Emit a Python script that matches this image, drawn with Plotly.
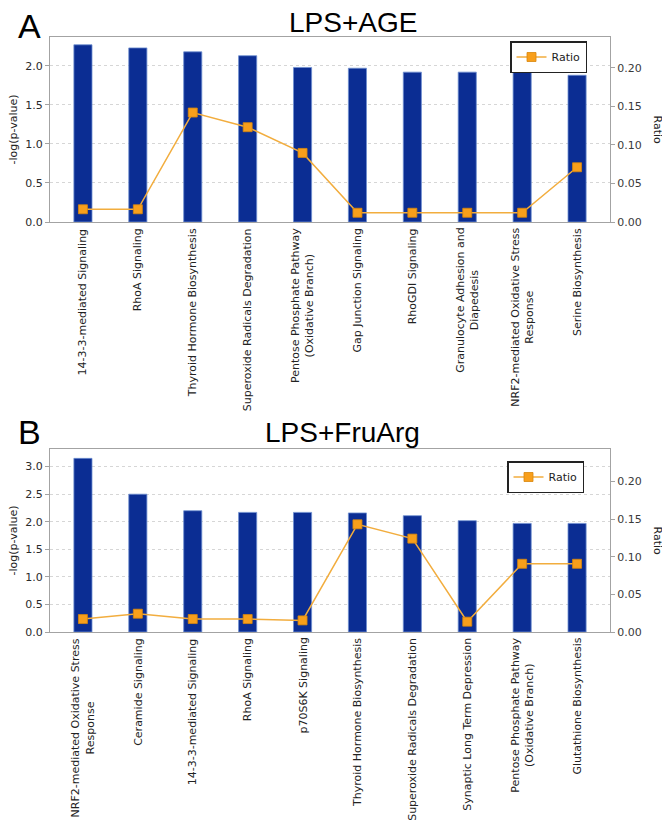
import plotly.graph_objects as go

# The page body adds an 8px margin, so the figure is drawn 8px smaller and
# all reference pixel positions are shifted by that offset.
REF_W, REF_H = 670, 831
OFF = 8
W, H = REF_W - OFF, REF_H - OFF

# ---------------- data ----------------
cats_A = ["14-3-3-mediated Signaling", "RhoA Signaling", "Thyroid Hormone Biosynthesis",
          "Superoxide Radicals Degradation", "Pentose Phosphate Pathway<br>(Oxidative Branch)",
          "Gap Junction Signaling", "RhoGDI Signaling", "Granulocyte Adhesion and<br>Diapedesis",
          "NRF2-mediated Oxidative Stress<br>Response", "Serine Biosynthesis"]
logp_A = [2.27, 2.23, 2.18, 2.13, 1.98, 1.97, 1.92, 1.92, 1.92, 1.88]
ratio_A = [0.0165, 0.0165, 0.142, 0.123, 0.0896, 0.012, 0.012, 0.012, 0.012, 0.071]

cats_B = ["NRF2-mediated Oxidative Stress<br>Response", "Ceramide Signaling",
          "14-3-3-mediated Signaling", "RhoA Signaling", "p70S6K Signaling",
          "Thyroid Hormone Biosynthesis", "Superoxide Radicals Degradation",
          "Synaptic Long Term Depression", "Pentose Phosphate Pathway<br>(Oxidative Branch)",
          "Glutathione Biosynthesis"]
logp_B = [3.15, 2.50, 2.20, 2.17, 2.17, 2.16, 2.11, 2.02, 1.97, 1.97]
ratio_B = [0.0172, 0.0243, 0.0172, 0.0172, 0.0154, 0.143, 0.124, 0.0137, 0.0906, 0.0906]

titles = ["LPS+AGE", "LPS+FruArg"]
panel_letters = ["A", "B"]
left_title = "-log(p-value)"
right_title = "Ratio"
legend_name = "Ratio"

# ---------------- styles ----------------
BAR = "#0b2d93"
BAR_EDGE = "#6f8fd0"
LINE = "#f2ad3e"
MARK = "#f89f1b"
MARK_EDGE = "#d8870c"
AX = "#a3a3a3"
GRID = "#d6d6d6"
TICKFONT = dict(family="DejaVu Sans", size=11, color="#2a2a2a")


def px_x(p):
    return (p - OFF) / W


def px_y(p):
    return (REF_H - p) / H


# plot-area pixel boxes in reference pixels: (left, right, top, bottom)
boxes = [(50, 610, 37, 222), (50, 610, 449, 632)]
yranges = [(2.37, 0.24), (3.32, 0.243)]
legend_pos = [(587, 41), (584, 461)]
title_pos = [(353, 23), (343, 432)]
letter_pos = [(29, 9), (29, 415)]

fig = go.Figure()
layout = dict(
    width=W, height=H, margin=dict(l=0, r=0, t=0, b=0),
    paper_bgcolor="white", plot_bgcolor="white",
    bargap=0.67, hovermode=False, annotations=[],
)

panels = [(cats_A, logp_A, ratio_A), (cats_B, logp_B, ratio_B)]
for i, (cats, logp, ratio) in enumerate(panels):
    xa = "x" if i == 0 else "x2"
    yl = "y" if i == 0 else "y3"
    yr = "y2" if i == 0 else "y4"
    lg = "legend" if i == 0 else "legend2"
    l, r, t, b = boxes[i]

    fig.add_trace(go.Bar(
        x=cats, y=logp, xaxis=xa, yaxis=yl, showlegend=False,
        marker=dict(color=BAR, line=dict(color=BAR_EDGE, width=0.8)),
    ))
    fig.add_trace(go.Scatter(
        x=cats, y=ratio, xaxis=xa, yaxis=yr, name=legend_name, legend=lg,
        mode="lines+markers", showlegend=True,
        line=dict(color=LINE, width=1.5),
        marker=dict(symbol="square", size=9, color=MARK, line=dict(color=MARK_EDGE, width=0.8)),
    ))

    xkey = "xaxis" if i == 0 else "xaxis2"
    ylkey = "yaxis" if i == 0 else "yaxis3"
    yrkey = "yaxis2" if i == 0 else "yaxis4"
    layout[xkey] = dict(
        domain=[px_x(l), px_x(r)], anchor=yl, type="category",
        categoryorder="array", categoryarray=cats,
        range=[-0.6, len(cats) - 0.4], showticklabels=False, ticks="",
        showline=True, linecolor=AX, linewidth=1, mirror=True,
        showgrid=False, zeroline=False, fixedrange=True,
    )
    layout[ylkey] = dict(
        domain=[px_y(b), px_y(t)], anchor=xa, range=[0, yranges[i][0]],
        dtick=0.5, tick0=0, tickformat=".1f", ticks="outside", ticklen=4,
        tickcolor=AX, showline=True, linecolor=AX, linewidth=1,
        showgrid=True, gridcolor=GRID, griddash="3px,3px", gridwidth=1,
        zeroline=False, tickfont=TICKFONT, automargin=False,
    )
    layout[yrkey] = dict(
        overlaying=yl, anchor=xa, side="right", range=[0, yranges[i][1]],
        dtick=0.05, tick0=0, tickformat=".2f", ticks="outside", ticklen=4,
        tickcolor=AX, showline=True, linecolor=AX, linewidth=1,
        showgrid=False, zeroline=False, automargin=False,
        tickfont=dict(family="DejaVu Sans", size=11, color="#3a3a3a"),
    )
    lx, ly = legend_pos[i]
    layout[lg] = dict(
        x=px_x(lx), y=px_y(ly), xanchor="right", yanchor="top",
        bgcolor="white", bordercolor="#222222", borderwidth=1.5,
        font=dict(family="DejaVu Sans", size=11, color="#222"),
        itemwidth=30, tracegroupgap=0,
    )

    # category labels below bars (rotated, centered multi-line)
    for c in cats:
        layout["annotations"].append(dict(
            x=c, xref=xa, y=0, yref=f"{yl} domain", text=c, showarrow=False,
            textangle=-90, xanchor="center", yanchor="top", align="center",
            yshift=-4, font=dict(family="DejaVu Sans", size=11, color="#222"),
        ))

    # axis titles
    layout["annotations"].append(dict(
        x=px_x(13), y=px_y((t + b) / 2), xref="paper", yref="paper",
        text=left_title, showarrow=False, textangle=-90,
        xanchor="center", yanchor="middle",
        font=dict(family="DejaVu Sans", size=11, color="#222"),
    ))
    layout["annotations"].append(dict(
        x=px_x(657), y=px_y((t + b) / 2), xref="paper", yref="paper",
        text=right_title, showarrow=False, textangle=90,
        xanchor="center", yanchor="middle",
        font=dict(family="DejaVu Sans", size=11, color="#222"),
    ))
    # panel title and letter
    tx, ty = title_pos[i]
    layout["annotations"].append(dict(
        x=px_x(tx), y=px_y(ty), xref="paper", yref="paper", text=titles[i],
        showarrow=False, xanchor="center", yanchor="middle",
        font=dict(family="Liberation Sans", size=28, color="black"),
    ))
    ax_, ay_ = letter_pos[i]
    layout["annotations"].append(dict(
        x=px_x(ax_), y=px_y(ay_), xref="paper", yref="paper", text=panel_letters[i],
        showarrow=False, xanchor="center", yanchor="top", yshift=4,
        font=dict(family="Liberation Sans", size=34, color="black"),
    ))

fig.update_layout(**layout)
fig.write_html("out.html")
